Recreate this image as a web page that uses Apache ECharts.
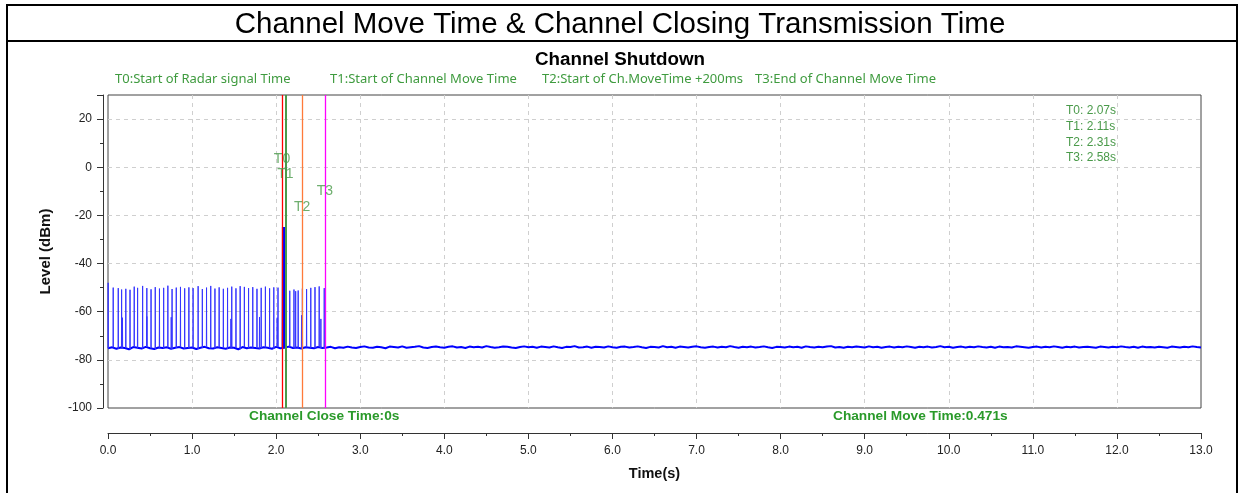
<!DOCTYPE html>
<html>
<head>
<meta charset="utf-8">
<script src="https://cdn.jsdelivr.net/npm/echarts@6/dist/echarts.min.js"></script>
<style>
html,body{margin:0;padding:0;background:#fff;}
#chart{width:1240px;height:493px;}
</style>
</head>
<body>
<div id="chart"></div>
<script>
// ---------- DATA ----------
const xTickLabels = ['0.0','1.0','2.0','3.0','4.0','5.0','6.0','7.0','8.0','9.0','10.0','11.0','12.0','13.0'];
const yTickValues = [-100,-80,-60,-40,-20,0,20];

// baseline (noise floor) sampled every 0.05 s from 0.00 to 13.00 s
const baseStep = 0.05;
const baseline = [
-75.2,-74.8,-75.4,-74.9,-75.1,-75.6,-74.7,-75.0,-75.3,-74.6,-75.2,-75.5,-74.9,-75.1,-74.8,-75.4,-75.0,-74.7,-75.3,-75.1,
-74.9,-75.5,-75.0,-74.6,-75.2,-75.3,-74.8,-75.1,-75.4,-74.9,-75.0,-75.6,-74.7,-75.2,-74.9,-75.1,-75.3,-74.8,-75.0,-75.4,
-74.6,-75.2,-75.0,-74.5,-75.1,-74.9,-75.3,-74.8,-75.0,-75.2,-74.7,-75.1,-74.9,-74.6,-75.2,-74.8,-75.0,-74.5,-74.9,-75.1,
-74.7,-74.4,-74.9,-75.0,-74.6,-74.8,-75.2,-74.5,-74.7,-74.9,-74.4,-75.0,-74.8,-74.6,-74.3,-74.9,-75.1,-74.7,-74.5,-74.8,
-75.0,-74.6,-74.4,-74.9,-74.7,-75.1,-74.5,-74.8,-74.6,-74.9,-74.3,-74.7,-75.0,-74.8,-74.5,-74.6,-74.9,-75.1,-74.7,-74.4,
-74.8,-74.6,-75.0,-74.5,-74.7,-74.9,-74.4,-74.8,-75.1,-74.6,-74.7,-74.3,-74.9,-74.8,-74.5,-75.0,-74.6,-74.7,-74.9,-74.4,
-74.8,-75.0,-74.6,-74.5,-74.9,-74.7,-74.4,-74.8,-75.1,-74.6,-74.7,-74.9,-74.3,-74.8,-74.6,-75.0,-74.5,-74.7,-74.9,-74.6,
-74.4,-74.8,-75.0,-74.7,-74.5,-74.9,-74.6,-74.8,-74.3,-74.7,-75.0,-74.6,-74.8,-74.5,-74.9,-74.7,-74.4,-74.8,-75.1,-74.6,
-74.7,-74.9,-74.5,-74.8,-74.6,-75.0,-74.4,-74.7,-74.9,-74.6,-74.8,-74.5,-74.3,-74.9,-74.7,-75.0,-74.6,-74.8,-74.5,-74.7,
-74.9,-74.4,-74.8,-74.6,-75.0,-74.7,-74.5,-74.9,-74.6,-74.8,-74.4,-74.7,-75.0,-74.6,-74.8,-74.5,-74.9,-74.7,-74.3,-74.8,
-74.6,-75.0,-74.7,-74.5,-74.9,-74.6,-74.8,-74.4,-74.7,-74.9,-74.6,-75.0,-74.5,-74.8,-74.7,-74.9,-74.4,-74.6,-74.8,-75.0,
-74.7,-74.5,-74.9,-74.6,-74.8,-74.4,-74.7,-75.0,-74.6,-74.8,-74.5,-74.9,-74.7,-74.6,-74.8,-75.0,-74.5,-74.7,-74.9,-74.6,
-74.8,-74.4,-74.7,-74.9,-74.6,-75.0,-74.5,-74.8,-74.7,-74.9,-74.6,-74.8,-75.0,-74.5,-74.7,-74.9,-74.6,-74.8,-74.4,-74.7,
-74.9
];

// radar pulses (time s, peak dBm)
const pulseTimes  = [0.00,0.06,0.12,0.16,0.21,0.26,0.31,0.35,0.41,0.46,0.51,0.56,0.61,0.66,0.71,0.76,0.81,0.86,0.91,0.96,
                     1.01,1.07,1.12,1.17,1.22,1.27,1.32,1.37,1.42,1.47,1.52,1.57,1.62,1.67,1.72,1.77,1.82,1.87,1.92,1.97,
                     2.02,2.16,2.21,2.26,2.31,2.36,2.41,2.46,2.51,2.57];
const pulseLevels = [-48.0,-50.0,-50.2,-50.8,-50.5,-50.9,-49.6,-50.1,-49.3,-50.2,-50.7,-49.8,-50.4,-50.1,-49.2,-50.6,-50.0,-49.7,-50.3,-49.9,
                     -50.2,-49.4,-50.6,-50.0,-49.3,-50.4,-49.9,-50.5,-50.1,-49.6,-50.3,-49.4,-49.7,-50.2,-49.8,-50.5,-50.1,-49.6,-50.3,-49.9,
                     -50.0,-51.3,-50.8,-51.2,-50.4,-50.6,-50.1,-49.8,-49.5,-50.2];
const shortPulseTimes  = [0.17,0.46,0.75,1.46,1.80,2.01,2.23,2.30,2.53];
const shortPulseLevels = [-62.5,-62.0,-62.3,-63.0,-62.2,-62.5,-51.5,-61.5,-63.0];

// strong radar burst at T0..T1
const burstTimes  = [2.074,2.078,2.090,2.100,2.108,2.112];
const burstLevels = [-75.0,-24.8,-24.8,-24.8,-24.8,-75.0];

// markers
const markerNames  = ['T0','T1','T2','T3'];
const markerTimes  = [2.07,2.11,2.31,2.58];
const markerColors = ['#ff0000','#4a9a4a','#ff7a3a','#ff00ff'];
const markerLabelLevels = [3.5,-3.0,-16.5,-10.0];
const markerDescriptions = ['T0:Start of Radar signal Time','T1:Start of Channel Move Time','T2:Start of Ch.MoveTime +200ms','T3:End of Channel Move Time'];

const mainTitle = 'Channel Move Time & Channel Closing Transmission Time';
const chartTitle = 'Channel Shutdown';
const closeTimeText = 'Channel Close Time:0s';
const moveTimeText = 'Channel Move Time:0.471s';
const xName = 'Time(s)';
const yName = 'Level (dBm)';

// ---------- BUILD ----------
const baseData = baseline.map((v,i)=>[+(i*baseStep).toFixed(3), v]);
function baseAt(t){ return baseline[Math.min(baseline.length-1, Math.round(t/baseStep))]; }
const pulseData = [];
pulseTimes.forEach((t,i)=>{ pulseData.push([t, baseAt(t)],[t+0.002, pulseLevels[i]],[t+0.004, baseAt(t)],['-','-']); });
shortPulseTimes.forEach((t,i)=>{ pulseData.push([t, baseAt(t)],[t+0.002, shortPulseLevels[i]],[t+0.004, baseAt(t)],['-','-']); });
const burstData = burstTimes.map((t,i)=>[t, burstLevels[i]]);
const burstFill = burstTimes.slice(1,-1).map(t=>[[t, burstLevels[0]],[t, burstLevels[1]]]);
const labelData = markerNames.map((n,i)=>({value:[markerTimes[i], markerLabelLevels[i]], name:n}));

const green = '#3f9b3f';
const chart = echarts.init(document.getElementById('chart'), null, {renderer:'canvas'});

const legendX = [115, 330, 542, 755];

const option = {
  animation:false,
  backgroundColor:'#fff',
  title:[
    {text:mainTitle, left:'center', top:5, textStyle:{fontFamily:'Liberation Sans, Arial', fontSize:29.5, fontWeight:'normal', color:'#000'}},
    {text:chartTitle, left:'center', top:45, textStyle:{fontFamily:'Liberation Sans, Arial', fontSize:18.8, fontWeight:'bold', color:'#000'}}
  ],
  grid:{left:108, right:39, top:95, bottom:85, show:true, borderColor:'#444', borderWidth:1, backgroundColor:'transparent'},
  xAxis:{
    type:'value', min:0, max:13, interval:1, offset:25,
    name:xName, nameLocation:'middle', nameGap:33,
    nameTextStyle:{fontFamily:'Liberation Sans, Arial', fontSize:14.5, fontWeight:'bold', color:'#111'},
    axisLine:{show:true, onZero:false, lineStyle:{color:'#333', width:1}},
    axisTick:{show:true, length:6, lineStyle:{color:'#333'}},
    minorTick:{show:true, splitNumber:2, length:3, lineStyle:{color:'#333'}},
    axisLabel:{margin:12, fontFamily:'Liberation Sans, Arial', fontSize:12, color:'#222', formatter:(v)=>xTickLabels[Math.round(v)]},
    splitLine:{show:true, showMinLine:false, showMaxLine:false, lineStyle:{color:'#cfcfcf', type:[4,4], width:1}}
  },
  yAxis:{
    type:'value', min:-100, max:30, interval:20, offset:5,
    name:yName, nameLocation:'middle', nameGap:50, nameRotate:90,
    nameTextStyle:{fontFamily:'Liberation Sans, Arial', fontSize:15, fontWeight:'bold', color:'#111'},
    axisLine:{show:true, onZero:false, lineStyle:{color:'#333', width:1}},
    axisTick:{show:true, length:6, lineStyle:{color:'#333'}},
    minorTick:{show:true, splitNumber:2, length:3, lineStyle:{color:'#333'}},
    axisLabel:{margin:11, fontFamily:'Liberation Sans, Arial', fontSize:12, color:'#222', showMaxLabel:false,
      formatter:(v)=> yTickValues.indexOf(v)>=0 ? String(v) : ''},
    splitLine:{show:true, showMinLine:false, showMaxLine:false, lineStyle:{color:'#cfcfcf', type:[4,4], width:1}}
  },
  series:[
    {type:'line', data:baseData, showSymbol:false, symbol:'none', lineStyle:{color:'#0000ff', width:2}, z:3,
     markLine:{silent:true, symbol:['none','none'], label:{show:false},
       data: markerTimes.map((t,i)=>({xAxis:t, lineStyle:{color:markerColors[i], width: i===1?2:1.3, type:'solid'}}))}},
    {type:'line', data:pulseData, showSymbol:false, symbol:'none', connectNulls:false, lineStyle:{color:'#3535ff', width:1}, z:3},
    {type:'line', data:burstData, showSymbol:false, symbol:'none', lineStyle:{color:'#0000ff', width:1.5}, z:4},
    ...burstFill.map(seg=>({type:'line', data:seg, showSymbol:false, symbol:'none', lineStyle:{color:'#0000ff', width:1.5}, z:4})),
    {type:'scatter', data:labelData, symbolSize:0, z:6,
     label:{show:true, position:'inside', formatter:(p)=>p.name, fontFamily:'Liberation Sans, Arial', fontSize:14, color:'#4a9a4a'}}
  ],
  graphic:[
    {type:'rect', shape:{x:7, y:5, width:1230, height:500}, style:{fill:'none', stroke:'#000', lineWidth:2}, z:100},
    {type:'line', shape:{x1:7, y1:41, x2:1237, y2:41}, style:{stroke:'#000', lineWidth:2}, z:100},
    ...markerDescriptions.map((d,i)=>({type:'text', left:legendX[i], top:73, style:{text:d, fontFamily:'Noto Sans', fontSize:13, fill:green}})),
    {type:'text', left:1066, top:103, style:{text:markerNames.map((n,i)=>n+': '+markerTimes[i].toFixed(2)+'s').join('\n'), lineHeight:15.7, fontFamily:'Liberation Sans, Arial', fontSize:12, fill:'#4a9a4a'}},
    {type:'text', left:249, top:409, style:{text:closeTimeText, fontFamily:'Liberation Sans, Arial', fontSize:13.7, fontWeight:'bold', fill:'#2a9a2a'}},
    {type:'text', left:833, top:409, style:{text:moveTimeText, fontFamily:'Liberation Sans, Arial', fontSize:13.7, fontWeight:'bold', fill:'#2a9a2a'}}
  ]
};
chart.setOption(option);
</script>
</body>
</html>
